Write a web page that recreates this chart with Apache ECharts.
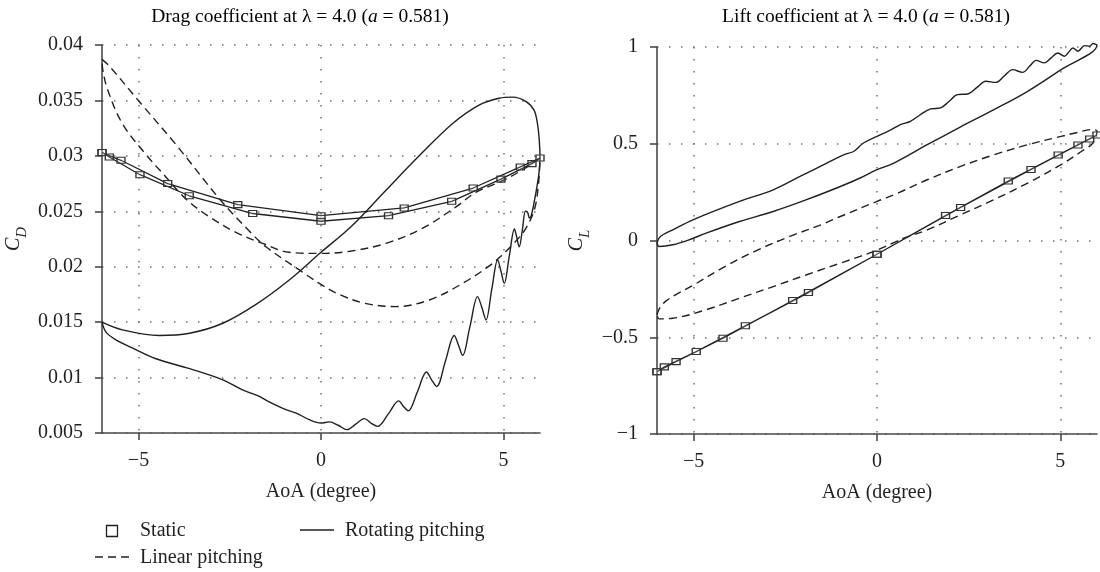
<!DOCTYPE html>
<html>
<head>
<meta charset="utf-8">
<script src="https://cdn.jsdelivr.net/npm/echarts@6/dist/echarts.min.js"></script>
<style>
  html, body { margin: 0; padding: 0; background: #fff; }
  #chart { width: 1100px; height: 572px; }
</style>
</head>
<body>
<div id="chart"></div>
<script>
// ---- axes ----
const aoaTicks = [-5, 0, 5];

// ---- drag coefficient, one pitching cycle each ([AoA, CD]) ----
const dragStatic = [
  [-6.0, 0.0303], [-5.8, 0.0299], [-4.96, 0.0283], [-3.61, 0.0264], [-1.87, 0.0248],
  [0.0, 0.0241], [1.85, 0.0246], [3.58, 0.0259], [4.93, 0.0279], [5.78, 0.0293],
  [6.0, 0.0298], [5.46, 0.0290], [4.17, 0.0271], [2.28, 0.0253], [0.0, 0.0246],
  [-2.28, 0.0256], [-4.2, 0.0275], [-5.48, 0.0296], [-6.0, 0.0303]
];
const dragLinear = [
  [-6.0, 0.0387], [-5.8, 0.0381], [-4.98, 0.0349], [-3.97, 0.0310], [-2.75, 0.0260],
  [-1.96, 0.0232], [-1.51, 0.0218], [-0.5, 0.0195], [0.0, 0.0184], [0.5, 0.0175],
  [1.2, 0.0167], [2.05, 0.0164], [2.97, 0.0170], [3.88, 0.0185], [4.7, 0.0203],
  [5.25, 0.0220], [5.6, 0.0234], [5.85, 0.0252], [5.96, 0.0275], [6.0, 0.0298],
  [5.5, 0.0287], [4.93, 0.0277], [4.24, 0.0267], [3.7, 0.0254], [2.8, 0.0235],
  [1.78, 0.0221], [0.8, 0.0214], [0.0, 0.0212], [-0.87, 0.0213], [-1.6, 0.0221],
  [-2.33, 0.0231], [-3.06, 0.0245], [-3.7, 0.0261], [-4.25, 0.0281], [-4.79, 0.0301],
  [-5.44, 0.0329], [-5.85, 0.0360], [-5.98, 0.0378], [-6.0, 0.0387]
];
const dragRotating = [
  [-6.0, 0.0150], [-5.44, 0.0143], [-4.43, 0.0138], [-3.6, 0.0140], [-2.69, 0.0149],
  [-1.78, 0.0166], [-0.87, 0.0188], [0.0, 0.0213], [0.82, 0.0236], [1.78, 0.0269],
  [2.69, 0.0300], [3.6, 0.0329], [4.34, 0.0346], [4.88, 0.0352], [5.25, 0.0353],
  [5.62, 0.0349], [5.84, 0.0341], [5.93, 0.0329], [5.98, 0.0314], [6.0, 0.0298],
  [5.97, 0.0284], [5.92, 0.0273], [5.85, 0.0260], [5.76, 0.0246], [5.71, 0.0244],
  [5.66, 0.0249], [5.6, 0.0250], [5.52, 0.0234], [5.43, 0.0218], [5.36, 0.0227],
  [5.3, 0.0234], [5.16, 0.0210], [5.02, 0.0185], [4.93, 0.0196], [4.84, 0.0206],
  [4.68, 0.0180], [4.52, 0.0152], [4.41, 0.0163], [4.29, 0.0173], [4.08, 0.0146],
  [3.88, 0.0120], [3.77, 0.0129], [3.65, 0.0138], [3.41, 0.0115], [3.17, 0.0092],
  [3.03, 0.0098], [2.89, 0.0105], [2.64, 0.0087], [2.39, 0.0070], [2.26, 0.0074],
  [2.13, 0.0079], [1.84, 0.0067], [1.55, 0.0056], [1.37, 0.0059], [1.19, 0.0063],
  [0.95, 0.0058], [0.71, 0.0053], [0.47, 0.0057], [0.23, 0.0060], [0.0, 0.0059],
  [-0.32, 0.0062], [-0.68, 0.0068], [-0.96, 0.0071], [-1.42, 0.0078], [-1.69, 0.0083],
  [-2.15, 0.0089], [-2.69, 0.0098], [-3.6, 0.0108], [-4.52, 0.0117], [-5.25, 0.0128],
  [-5.62, 0.0134], [-5.89, 0.0141], [-6.0, 0.0150]
];

// ---- lift coefficient ([AoA, CL]) ----
const liftStatic = [
  [-6.0, -0.678], [-5.8, -0.653], [-4.93, -0.574], [-3.59, -0.441], [-1.87, -0.269],
  [0.0, -0.071], [1.87, 0.129], [3.58, 0.307], [4.94, 0.442], [5.8, 0.525],
  [6.0, 0.545], [5.48, 0.494], [4.2, 0.367], [2.28, 0.171], [0.0, -0.071],
  [-2.3, -0.310], [-4.2, -0.505], [-5.48, -0.626], [-6.0, -0.678]
];
const liftLinear = [
  [-6.0, -0.384], [-5.92, -0.347], [-5.75, -0.312], [-5.45, -0.276], [-5.02, -0.232],
  [-4.2, -0.140], [-3.29, -0.052], [-2.38, 0.021], [-1.46, 0.086], [-1.0, 0.124],
  [0.0, 0.202], [0.46, 0.236], [1.37, 0.314], [2.28, 0.383], [3.19, 0.443],
  [4.11, 0.495], [5.02, 0.538], [5.48, 0.559], [5.84, 0.573], [6.0, 0.565],
  [5.89, 0.504], [5.57, 0.460], [5.02, 0.392], [4.11, 0.297], [3.19, 0.211],
  [2.28, 0.133], [1.37, 0.055], [0.73, 0.012], [0.0, -0.050], [-0.46, -0.082],
  [-1.0, -0.117], [-1.92, -0.177], [-2.83, -0.238], [-3.75, -0.298], [-4.66, -0.358],
  [-5.57, -0.402], [-5.94, -0.405], [-6.0, -0.384]
];
const liftRotating = [
  [-6.0, -0.008], [-5.9, 0.022], [-5.57, 0.055], [-5.02, 0.107], [-3.75, 0.202],
  [-2.83, 0.262], [-2.1, 0.331], [-1.37, 0.400], [-0.91, 0.443], [-0.64, 0.460],
  [-0.37, 0.504], [0.0, 0.538], [0.32, 0.566], [0.64, 0.599], [0.91, 0.616],
  [1.18, 0.650], [1.46, 0.680], [1.73, 0.685], [1.96, 0.718], [2.19, 0.754],
  [2.47, 0.757], [2.72, 0.790], [2.97, 0.823], [3.24, 0.817], [3.47, 0.850],
  [3.7, 0.883], [3.97, 0.869], [4.16, 0.900], [4.34, 0.931], [4.56, 0.918],
  [4.75, 0.944], [4.93, 0.969], [5.11, 0.952], [5.23, 0.974], [5.34, 0.995],
  [5.48, 0.978], [5.66, 1.007], [5.8, 1.004], [5.89, 1.018], [5.98, 1.012],
  [6.0, 1.010], [5.02, 0.883], [4.11, 0.771], [3.19, 0.676], [2.28, 0.587],
  [1.37, 0.495], [0.46, 0.400], [0.0, 0.366], [-0.46, 0.323], [-1.0, 0.279],
  [-1.92, 0.211], [-2.83, 0.150], [-3.75, 0.098], [-4.66, 0.038], [-5.12, 0.004],
  [-5.57, -0.022], [-5.94, -0.031], [-6.0, -0.008]
];

// ---- legend entries ----
const legendNames = ['Static', 'Rotating pitching', 'Linear pitching'];

const FONT = '"Liberation Serif", "DejaVu Serif", serif';
const INK = '#231f20';
const AXIS = '#4a4a4a';
const DOT = '#707070';
const FS = 20;
const TITLE_FS = 19.5;

const minus = v => String(v).replace('-', '\u2212');

function xAxisFor(gridIndex) {
  return {
    gridIndex, type: 'value', min: -6, max: 6,
    name: 'AoA (degree)', nameLocation: 'middle', nameGap: 49,
    nameTextStyle: { fontFamily: FONT, fontSize: FS, color: INK },
    axisLine: { show: true, onZero: false, lineStyle: { color: AXIS, width: 1.6 } },
    axisTick: { show: true, customValues: aoaTicks, length: 7, lineStyle: { color: AXIS, width: 1.6 } },
    axisLabel: { customValues: aoaTicks, formatter: minus, margin: 18, fontFamily: FONT, fontSize: FS, color: INK },
    splitLine: { show: true, lineStyle: { type: [1.5, 10.5], color: DOT, width: 1.5 } }
  };
}

function yAxisFor(gridIndex, min, max, interval, rich, fmt, gap) {
  return {
    gridIndex, type: 'value', min, max, interval,
    name: rich, nameLocation: 'middle', nameGap: gap, nameRotate: 90,
    nameTextStyle: {
      fontFamily: FONT, color: INK,
      rich: {
        c: { fontFamily: FONT, fontStyle: 'italic', fontSize: FS, lineHeight: 26, verticalAlign: 'top', color: INK },
        s: { fontFamily: FONT, fontStyle: 'italic', fontSize: 15, lineHeight: 15, verticalAlign: 'bottom', color: INK }
      }
    },
    axisLine: { show: true, onZero: false, lineStyle: { color: AXIS, width: 1.6 } },
    axisTick: { show: true, length: 7, lineStyle: { color: AXIS, width: 1.6 } },
    axisLabel: { formatter: fmt, margin: 19, fontFamily: FONT, fontSize: FS, color: INK },
    splitLine: { show: true, lineStyle: { type: [1.5, 10.5], color: DOT, width: 1.5 } }
  };
}

function curve(name, data, xi, yi, dashed) {
  return {
    name, type: 'line', xAxisIndex: xi, yAxisIndex: yi, data,
    showSymbol: false, symbol: 'none', smooth: 0.35, clip: false,
    lineStyle: { color: INK, width: 1.4, type: dashed ? [8, 5] : 'solid' },
    emphasis: { disabled: true }, z: 3
  };
}

function staticCurve(data, xi, yi) {
  return {
    name: 'Static', type: 'line', xAxisIndex: xi, yAxisIndex: yi, data,
    symbol: 'rect', symbolSize: [8, 6], showSymbol: true, smooth: false, clip: false,
    lineStyle: { color: INK, width: 1.3 },
    itemStyle: { color: 'rgba(255,255,255,0.15)', borderColor: '#333', borderWidth: 1.2 },
    emphasis: { disabled: true }, z: 4
  };
}

const titleRich = {
  n: { fontFamily: FONT, fontSize: TITLE_FS, color: INK },
  i: { fontFamily: FONT, fontSize: TITLE_FS, fontStyle: 'italic', color: INK }
};

function legendLabel(text, x, y) {
  return { type: 'text', x, y, style: { text, fontFamily: FONT, fontSize: FS, fill: INK, verticalAlign: 'middle' } };
}

const option = {
  animation: false,
  backgroundColor: '#fff',
  graphic: [
    { type: 'text', x: 300, y: 17, style: { text: '{n|Drag coefficient at λ = 4.0 (}{i|a}{n| = 0.581)}', rich: titleRich, align: 'center', verticalAlign: 'middle' } },
    { type: 'text', x: 866, y: 17, style: { text: '{n|Lift coefficient at λ = 4.0 (}{i|a}{n| = 0.581)}', rich: titleRich, align: 'center', verticalAlign: 'middle' } },
    // legend: hollow square, solid line, dashed line
    { type: 'rect', shape: { x: 106.5, y: 525.5, width: 11, height: 11 }, style: { fill: 'none', stroke: INK, lineWidth: 1.3 } },
    legendLabel(legendNames[0], 140, 531),
    { type: 'line', shape: { x1: 300, y1: 530, x2: 334, y2: 530 }, style: { stroke: INK, lineWidth: 1.4 } },
    legendLabel(legendNames[1], 345, 531),
    { type: 'line', shape: { x1: 95, y1: 557, x2: 129, y2: 557 }, style: { stroke: INK, lineWidth: 1.4, lineDash: [8, 5] } },
    legendLabel(legendNames[2], 140, 558)
  ],
  grid: [
    { left: 102, top: 45, width: 438, height: 388, containLabel: false },
    { left: 657, top: 47, width: 440, height: 387, containLabel: false }
  ],
  xAxis: [xAxisFor(0), xAxisFor(1)],
  yAxis: [
    yAxisFor(0, 0.005, 0.04, 0.005, '{c|C}{s|D}', v => String(+v.toFixed(3)), 72),
    yAxisFor(1, -1, 1, 0.5, '{c|C}{s|L}', minus, 64)
  ],
  series: [
    curve('Linear pitching', dragLinear, 0, 0, true),
    curve('Rotating pitching', dragRotating, 0, 0, false),
    staticCurve(dragStatic, 0, 0),
    curve('Linear pitching', liftLinear, 1, 1, true),
    curve('Rotating pitching', liftRotating, 1, 1, false),
    staticCurve(liftStatic, 1, 1)
  ]
};

const chart = echarts.init(document.getElementById('chart'), null, { renderer: 'canvas' });
chart.setOption(option);
</script>
</body>
</html>
